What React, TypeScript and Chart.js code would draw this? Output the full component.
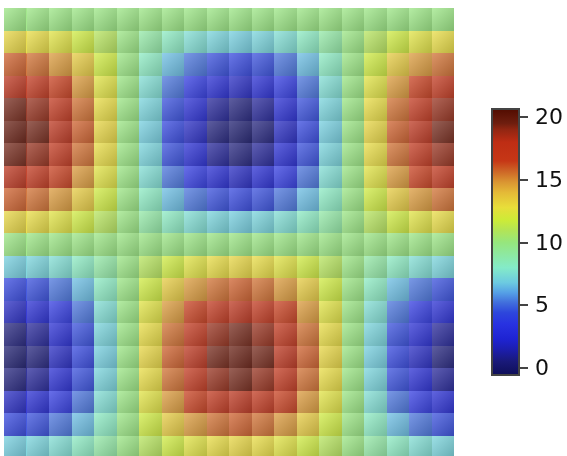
import React, { useEffect, useRef } from "react";
import { Chart, registerables } from "chart.js";
Chart.register(...registerables);

// ---- data ----
const xLabels = ["0","1","2","3","4","5","6","7","8","9","10","11","12","13","14","15","16","17","18","19"];
const yLabels = ["0","1","2","3","4","5","6","7","8","9","10","11","12","13","14","15","16","17","18","19"];
const zRows: number[][] = [
  [10, 10, 10, 10, 10, 10, 10, 10, 10, 10, 10, 10, 10, 10, 10, 10, 10, 10, 10, 10],
  [13.1, 12.9, 12.5, 11.8, 11.0, 10, 9.0, 8.2, 7.5, 7.1, 6.9, 7.1, 7.5, 8.2, 9.0, 10, 11.0, 11.8, 12.5, 12.9],
  [15.9, 15.6, 14.8, 13.5, 11.8, 10, 8.2, 6.5, 5.2, 4.4, 4.1, 4.4, 5.2, 6.5, 8.2, 10, 11.8, 13.5, 14.8, 15.6],
  [18.1, 17.7, 16.5, 14.8, 12.5, 10, 7.5, 5.2, 3.5, 2.3, 1.9, 2.3, 3.5, 5.2, 7.5, 10, 12.5, 14.8, 16.5, 17.7],
  [19.5, 19.0, 17.7, 15.6, 12.9, 10, 7.1, 4.4, 2.3, 1.0, 0.5, 1.0, 2.3, 4.4, 7.1, 10, 12.9, 15.6, 17.7, 19.0],
  [20.0, 19.5, 18.1, 15.9, 13.1, 10, 6.9, 4.1, 1.9, 0.5, 0.0, 0.5, 1.9, 4.1, 6.9, 10, 13.1, 15.9, 18.1, 19.5],
  [19.5, 19.0, 17.7, 15.6, 12.9, 10, 7.1, 4.4, 2.3, 1.0, 0.5, 1.0, 2.3, 4.4, 7.1, 10, 12.9, 15.6, 17.7, 19.0],
  [18.1, 17.7, 16.5, 14.8, 12.5, 10, 7.5, 5.2, 3.5, 2.3, 1.9, 2.3, 3.5, 5.2, 7.5, 10, 12.5, 14.8, 16.5, 17.7],
  [15.9, 15.6, 14.8, 13.5, 11.8, 10, 8.2, 6.5, 5.2, 4.4, 4.1, 4.4, 5.2, 6.5, 8.2, 10, 11.8, 13.5, 14.8, 15.6],
  [13.1, 12.9, 12.5, 11.8, 11.0, 10, 9.0, 8.2, 7.5, 7.1, 6.9, 7.1, 7.5, 8.2, 9.0, 10, 11.0, 11.8, 12.5, 12.9],
  [10, 10, 10, 10, 10, 10, 10, 10, 10, 10, 10, 10, 10, 10, 10, 10, 10, 10, 10, 10],
  [6.9, 7.1, 7.5, 8.2, 9.0, 10, 11.0, 11.8, 12.5, 12.9, 13.1, 12.9, 12.5, 11.8, 11.0, 10, 9.0, 8.2, 7.5, 7.1],
  [4.1, 4.4, 5.2, 6.5, 8.2, 10, 11.8, 13.5, 14.8, 15.6, 15.9, 15.6, 14.8, 13.5, 11.8, 10, 8.2, 6.5, 5.2, 4.4],
  [1.9, 2.3, 3.5, 5.2, 7.5, 10, 12.5, 14.8, 16.5, 17.7, 18.1, 17.7, 16.5, 14.8, 12.5, 10, 7.5, 5.2, 3.5, 2.3],
  [0.5, 1.0, 2.3, 4.4, 7.1, 10, 12.9, 15.6, 17.7, 19.0, 19.5, 19.0, 17.7, 15.6, 12.9, 10, 7.1, 4.4, 2.3, 1.0],
  [0.0, 0.5, 1.9, 4.1, 6.9, 10, 13.1, 15.9, 18.1, 19.5, 20.0, 19.5, 18.1, 15.9, 13.1, 10, 6.9, 4.1, 1.9, 0.5],
  [0.5, 1.0, 2.3, 4.4, 7.1, 10, 12.9, 15.6, 17.7, 19.0, 19.5, 19.0, 17.7, 15.6, 12.9, 10, 7.1, 4.4, 2.3, 1.0],
  [1.9, 2.3, 3.5, 5.2, 7.5, 10, 12.5, 14.8, 16.5, 17.7, 18.1, 17.7, 16.5, 14.8, 12.5, 10, 7.5, 5.2, 3.5, 2.3],
  [4.1, 4.4, 5.2, 6.5, 8.2, 10, 11.8, 13.5, 14.8, 15.6, 15.9, 15.6, 14.8, 13.5, 11.8, 10, 8.2, 6.5, 5.2, 4.4],
  [6.9, 7.1, 7.5, 8.2, 9.0, 10, 11.0, 11.8, 12.5, 12.9, 13.1, 12.9, 12.5, 11.8, 11.0, 10, 9.0, 8.2, 7.5, 7.1],
];
const colorbarTicks = [0, 5, 10, 15, 20];
const cMin = -0.5;
const cMax = 20.5;

// ---- styles ----
const STOPS: [number, number, number, number][] = [
  [-0.5, 15, 15, 90],
  [0.5, 25, 25, 120],
  [1.5, 28, 30, 175],
  [2.3, 30, 35, 210],
  [3.5, 40, 50, 225],
  [4.4, 45, 70, 220],
  [5.2, 65, 110, 220],
  [6.0, 85, 160, 230],
  [6.8, 108, 202, 225],
  [8, 132, 235, 200],
  [10, 150, 230, 125],
  [11, 180, 228, 85],
  [11.8, 205, 235, 55],
  [12.8, 232, 222, 58],
  [14, 228, 185, 55],
  [14.8, 218, 150, 50],
  [15.7, 205, 100, 38],
  [16.5, 198, 55, 22],
  [18, 190, 45, 20],
  [19, 145, 38, 18],
  [19.5, 110, 30, 15],
  [20.5, 85, 14, 2],
];

type RGB = [number, number, number];
function scaleRGB(v: number): RGB {
  if (v <= STOPS[0][0]) return [STOPS[0][1], STOPS[0][2], STOPS[0][3]];
  for (let i = 1; i < STOPS.length; i++) {
    const a = STOPS[i - 1], b = STOPS[i];
    if (v <= b[0]) {
      const t = (v - a[0]) / (b[0] - a[0]);
      return [a[1] + (b[1] - a[1]) * t, a[2] + (b[2] - a[2]) * t, a[3] + (b[3] - a[3]) * t];
    }
  }
  const l = STOPS[STOPS.length - 1];
  return [l[1], l[2], l[3]];
}
const ALPHA = 0.9;
function cellRGB(v: number): RGB {
  const [r, g, b] = scaleRGB(v);
  const m = (c: number) => c * ALPHA + 255 * (1 - ALPHA);
  return [m(r), m(g), m(b)];
}
const css = (c: RGB) => `rgb(${Math.round(c[0])},${Math.round(c[1])},${Math.round(c[2])})`;
const lighten = (c: RGB, k: number): RGB => [c[0] + (255 - c[0]) * k, c[1] + (255 - c[1]) * k, c[2] + (255 - c[2]) * k];
const darken = (c: RGB, k: number): RGB => [c[0] * (1 - k), c[1] * (1 - k), c[2] * (1 - k)];

const W = 567;
const H = 470;
const CB = { left: 492, right: 519, top: 109, bottom: 375, yMax: 110.7, yMin: 374.3 };

const shadePlugin = {
  id: "shade",
  afterDatasetsDraw(chart: any) {
    const ctx = chart.ctx as CanvasRenderingContext2D;
    ctx.save();
    chart.data.datasets.forEach((_ds: any, i: number) => {
      const meta = chart.getDatasetMeta(i);
      meta.data.forEach((el: any, j: number) => {
        const p = el.getProps(["x", "y", "base", "width"], true);
        const l = Math.round(p.x - p.width / 2);
        const r = Math.round(p.x + p.width / 2);
        const t = Math.round(Math.min(p.y, p.base));
        const b = Math.round(Math.max(p.y, p.base));
        const c = cellRGB(zRows[i][j]);
        const g = ctx.createLinearGradient(l, t, r, b);
        g.addColorStop(0, css(lighten(c, 0.22)));
        g.addColorStop(1, css(darken(c, 0.2)));
        ctx.fillStyle = g;
        ctx.fillRect(l, t, r - l, b - t);
      });
    });
    ctx.restore();
  },
};

const colorbarPlugin = {
  id: "colorbar",
  afterDraw(chart: any) {
    const ctx = chart.ctx as CanvasRenderingContext2D;
    const yOf = (v: number) => CB.yMax + ((cMax - v) / (cMax - cMin)) * (CB.yMin - CB.yMax);
    ctx.save();
    const g = ctx.createLinearGradient(0, CB.yMin, 0, CB.yMax);
    STOPS.forEach((s) => {
      g.addColorStop((s[0] - cMin) / (cMax - cMin), css(scaleRGB(s[0])));
    });
    ctx.fillStyle = g;
    ctx.fillRect(CB.left, CB.top, CB.right - CB.left, CB.bottom - CB.top);
    ctx.strokeStyle = "#444";
    ctx.lineWidth = 2;
    ctx.strokeRect(CB.left, CB.top, CB.right - CB.left, CB.bottom - CB.top);
    ctx.fillStyle = "#111";
    ctx.font = '22px "DejaVu Sans", sans-serif';
    ctx.textBaseline = "middle";
    ctx.textAlign = "left";
    colorbarTicks.forEach((v) => {
      const y = Math.round(yOf(v));
      ctx.beginPath();
      ctx.moveTo(CB.right + 1, y);
      ctx.lineTo(CB.right + 9, y);
      ctx.stroke();
      ctx.fillText(String(v), CB.right + 16, y + 1);
    });
    ctx.restore();
  },
};

export default function App() {
  const ref = useRef<HTMLCanvasElement | null>(null);
  useEffect(() => {
    if (!ref.current) return;
    const chart = new Chart(ref.current, {
      type: "bar",
      data: {
        labels: xLabels,
        datasets: zRows.map((row, r) => ({
          label: yLabels[r],
          data: row.map(() => 1),
          backgroundColor: row.map((v) => css(cellRGB(v))),
          borderWidth: 0,
          categoryPercentage: 1,
          barPercentage: 1,
          stack: "grid",
        })),
      },
      options: {
        responsive: false,
        animation: false,
        layout: { padding: { left: 4, top: 8, right: W - 454, bottom: H - 458 } },
        scales: {
          x: { stacked: true, display: false, grid: { display: false } },
          y: { stacked: true, display: false, min: 0, max: 20, reverse: true, grid: { display: false } },
        },
        plugins: { legend: { display: false }, tooltip: { enabled: false } },
      },
      plugins: [shadePlugin, colorbarPlugin],
    });
    return () => chart.destroy();
  }, []);
  return (
    <div style={{ width: W, height: 456, overflow: "hidden", position: "fixed", left: 0, top: 0, background: "#fff" }}>
      <canvas ref={ref} width={W} height={H} style={{ width: W, height: H, display: "block" }} />
    </div>
  );
}
